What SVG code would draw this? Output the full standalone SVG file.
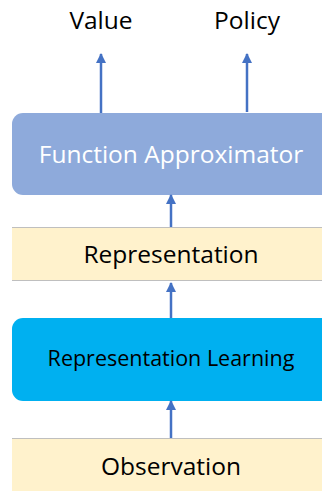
<svg xmlns="http://www.w3.org/2000/svg" width="322" height="491" viewBox="0 0 322 491">
<style>
.t{font-family:"Open Sans","Liberation Sans",sans-serif;text-anchor:middle;font-size:24.5px}
.band{fill:#FFF2CC}
.bl{stroke:#BFBFBF;stroke-width:1}
.c{stroke:#4472C4;stroke-width:2.5;fill:none;marker-end:url(#ah)}
</style>
<defs>
<marker id="ah" viewBox="0 0 10 10" refX="9" refY="5" markerWidth="4.2" markerHeight="4" orient="auto" markerUnits="strokeWidth">
<path d="M0,0 L10,5 L0,10 z" fill="#4472C4"/>
</marker>
</defs>
<g id="value"><text class="t" x="101" y="29" fill="#000">Value</text></g>
<g id="policy"><text class="t" x="247" y="29" fill="#000">Policy</text></g>
<g id="function-approximator">
<rect x="12" y="113" width="330" height="82" rx="11" fill="#8EAADB"/>
<text class="t" x="171" y="163" fill="#fff">Function Approximator</text>
</g>
<g id="representation">
<rect class="band" x="12" y="227" width="320" height="54"/>
<line class="bl" x1="12" y1="227.5" x2="322" y2="227.5"/>
<line class="bl" x1="12" y1="280.5" x2="322" y2="280.5"/>
<text class="t" x="171" y="263" fill="#000">Representation</text>
</g>
<g id="representation-learning">
<rect x="12" y="318" width="330" height="83" rx="11" fill="#00B0F0"/>
<text class="t" x="171" y="366" style="font-size:21.5px" fill="#000">Representation Learning</text>
</g>
<g id="observation">
<rect class="band" x="12" y="438" width="320" height="60"/>
<line class="bl" x1="12" y1="438.5" x2="322" y2="438.5"/>
<text class="t" x="171" y="475" fill="#000">Observation</text>
</g>
<g id="connectors">
<line class="c" x1="101" y1="113" x2="101" y2="54"/>
<line class="c" x1="247" y1="112" x2="247" y2="54"/>
<line class="c" x1="171" y1="227" x2="171" y2="195"/>
<line class="c" x1="171" y1="318" x2="171" y2="283"/>
<line class="c" x1="171" y1="438" x2="171" y2="401"/>
</g>
</svg>
